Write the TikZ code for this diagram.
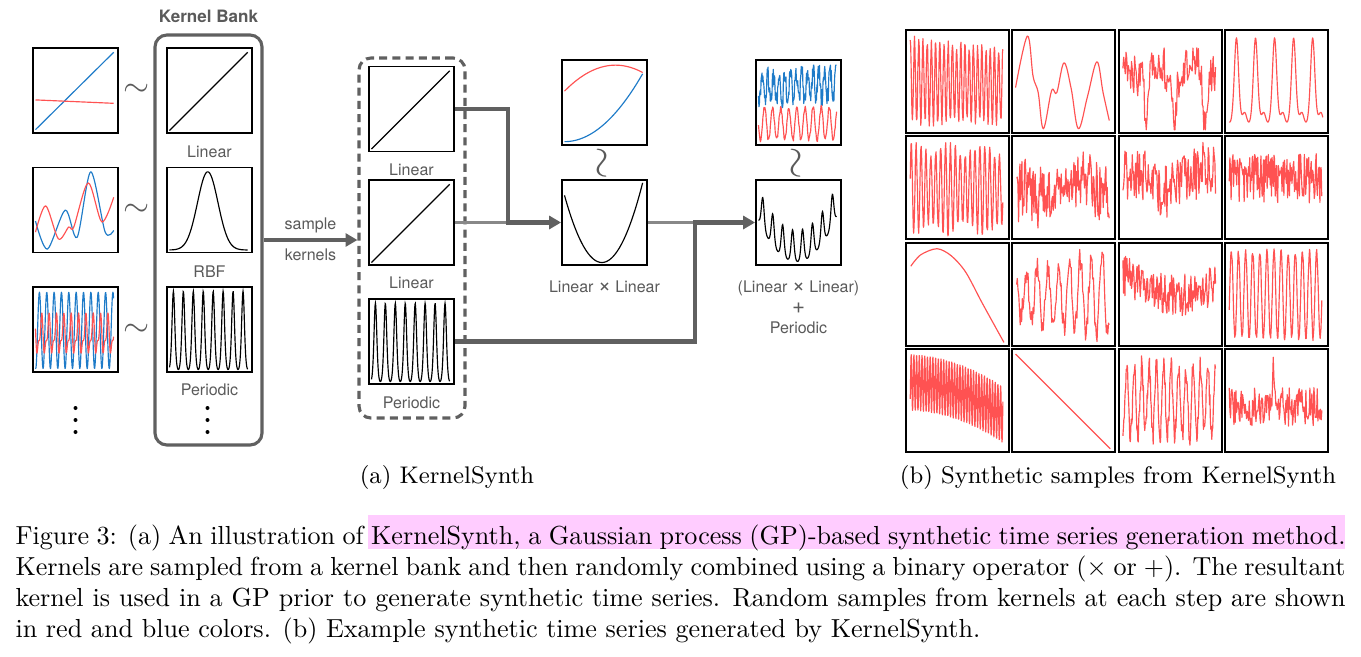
\documentclass[tikz,border=0pt]{standalone}
\usepackage{fontspec}
\newfontfamily\helv{TeX Gyre Heros}
\usetikzlibrary{arrows.meta}
\newlength\pxu
\setlength\pxu{0.387pt}
\definecolor{framegray}{HTML}{606060}
\definecolor{labelgray}{HTML}{5A5A5A}
\definecolor{sred}{HTML}{FF5252}
\definecolor{sblue}{HTML}{1E7BC8}
\definecolor{hlpink}{HTML}{FFCCFF}
\newcommand\optimes{{\fontsize{8.6}{8}\selectfont ×}}

\begin{document}
\begin{tikzpicture}[x=0.387pt,y=-0.387pt,
    plotframe/.style={draw,line width=0.7pt,inner sep=0pt,minimum size=85\pxu},
    gridframe/.style={plotframe,minimum size=103\pxu},
    lbl/.style={font=\helv\fontsize{6.2}{7.5}\selectfont,text=labelgray,inner sep=0pt},
    kline/.style={line width=0.45pt,black},
    rline/.style={line width=0.45pt,sred,line join=round},
    bline/.style={line width=0.45pt,sblue,line join=round},
    flow/.style={framegray,line width=1.9pt},
    thinflow/.style={framegray!75,line width=0.9pt},
    flowtip/.style={-{Triangle[length=4.6pt,width=5pt]}},
    tildemark/.style={text=labelgray,inner sep=0pt,scale=1.3},
    in box/.style={shift={(#1.south west)},x=85\pxu,y=85\pxu},
    in cell/.style={shift={(#1.south west)},x=103\pxu,y=103\pxu}]
  \useasboundingbox (0,0) rectangle (1361,656);

  % kernel bank and sampled kernels
  \node[lbl,font=\helv\bfseries\fontsize{6.6}{8}\selectfont,anchor=base] (banktitle) at (208.5,22) {Kernel Bank};
  \node[draw=framegray,line width=1.2pt,rounded corners=4.6pt,minimum width=107\pxu,minimum height=410\pxu] (bank) at (208.5,240) {};
  \node[draw=framegray,line width=1.2pt,dash pattern=on 3.1pt off 2pt,rounded corners=4.6pt,minimum width=106\pxu,minimum height=360\pxu] (pick) at (412,238) {};

  \node[plotframe] (s1) at (75.5,90.5) {};
  \node[plotframe] (s2) at (75.5,210) {};
  \node[plotframe] (s3) at (75.5,329.5) {};
  \node[plotframe] (k1) at (209.5,90.5) {};
  \node[plotframe] (k2) at (209.5,210) {};
  \node[plotframe] (k3) at (209.5,329.5) {};
  \node[plotframe] (p1) at (411.5,109) {};
  \node[plotframe] (p2) at (411.5,222.5) {};
  \node[plotframe] (p3) at (411.5,341.5) {};
  \node[plotframe] (llsmp) at (604.5,102.5) {};
  \node[plotframe] (ll) at (604.5,222.5) {};
  \node[plotframe] (sumsmp) at (798.5,102.5) {};
  \node[plotframe] (sum) at (798.5,222.5) {};

  \foreach \y in {90,210,330}{
    \node[tildemark] at (137,\y) {$\sim$};
  }
  \node[tildemark,rotate=90,scale=1.25] (wr1) at (604.5,163) {$\sim$};
  \node[tildemark,rotate=90,scale=1.25] (wr2) at (798.5,163) {$\sim$};
  \foreach \d in {408,420,432}{
    \fill (75.5,\d) circle (2);
    \fill (207.5,\d) circle (2);
  }

  \node[lbl,anchor=base] (k1l) at (209.5,157) {Linear};
  \node[lbl,anchor=base] (k2l) at (209.5,277) {RBF};
  \node[lbl,anchor=base] (k3l) at (209.5,395) {Periodic};
  \node[lbl,anchor=base] (p1l) at (411.5,175) {Linear};
  \node[lbl,anchor=base] (p2l) at (411.5,288) {Linear};
  \node[lbl,anchor=base] (p3l) at (411.5,408) {Periodic};
  \node[lbl,anchor=base] (lll) at (604.5,292) {Linear \optimes{} Linear};
  \node[lbl,anchor=base] (suml1) at (798.5,292) {(Linear \optimes{} Linear)};
  \node[lbl,anchor=base] (suml2) at (798.5,313) {\fontsize{8.6}{8}\selectfont +};
  \node[lbl,anchor=base] (suml3) at (798.5,333) {Periodic};

  % connectors
  \draw[framegray,line width=1.2pt,flowtip] (bank.east) -- (bank.east -| pick.west)
    node[lbl,midway,above=2pt] {sample} node[lbl,midway,below=3pt] {kernels};
  \coordinate (j1) at (508,222.5);
  \coordinate (j2) at (695,222.5);
  \draw[thinflow] (p2.east) -- (j1);
  \draw[flow,flowtip] (p1.east) -| (j1) -- (ll.west);
  \draw[thinflow] (ll.east) -- (j2);
  \draw[flow,flowtip] (p3.east) -| (j2) -- (sum.west);

  % samples drawn from the bank
  \begin{scope}[in box=s1]
    \draw[bline] (0.04,0.05) -- (0.96,0.96);
    \draw[rline] (0.04,0.40) -- (0.96,0.36);
  \end{scope}
  \begin{scope}[in box=s2]
    \draw[bline] plot[smooth] coordinates {(0.04,0.38) (0.18,0.05) (0.39,0.51) (0.53,0.19) (0.69,0.96) (0.86,0.25) (0.96,0.27)};
    \draw[rline] plot[smooth] coordinates {(0.04,0.25) (0.16,0.56) (0.31,0.17) (0.43,0.31) (0.49,0.31) (0.66,0.83) (0.82,0.37) (0.96,0.66)};
  \end{scope}
  \begin{scope}[in box=s3]
    \draw[bline] plot[domain=0.04:0.96,samples=220] (\x,{0.5+0.45*cos(360*(\x-0.086)/0.0865)});
    \draw[rline] plot[domain=0.04:0.96,samples=220] (\x,{0.44+0.19*cos(360*(\x-0.11)/0.0865)+0.09*cos(720*(\x-0.03)/0.0865)});
  \end{scope}

  % kernels
  \foreach \b in {k1,p1,p2}{
    \begin{scope}[in box=\b]
      \draw[kline] (0.04,0.04) -- (0.96,0.96);
    \end{scope}
  }
  \begin{scope}[in box=k2]
    \draw[kline] plot[domain=0.04:0.96,samples=100] (\x,{0.04+0.92*exp(-(\x-0.49)*(\x-0.49)/0.029)});
  \end{scope}
  \foreach \b in {k3,p3}{
    \begin{scope}[in box=\b]
      \draw[kline] plot[domain=0.04:0.96,samples=240] (\x,{1.0023*exp(-1.25*(1-cos(360*(\x-0.086)/0.117)))-0.0423});
    \end{scope}
  }
  \begin{scope}[in box=ll]
    \draw[kline] plot[domain=0.04:0.96,samples=60] (\x,{0.04+4.08*(\x-0.48)*(\x-0.48)});
  \end{scope}
  \begin{scope}[in box=llsmp]
    \draw[rline] plot[domain=0.04:0.96,samples=60] (\x,{0.95-0.85*(\x-0.64)*(\x-0.64)});
    \draw[bline] plot[domain=0.04:0.96,samples=60] (\x,{0.05+0.945*(\x-0.04)*(\x-0.04)});
  \end{scope}
  \begin{scope}[in box=sum]
    \draw[kline] plot[domain=0.04:0.96,samples=240] (\x,{0.02+2.4*(\x-0.49)*(\x-0.49)+0.4*exp(-1.25*(1-cos(360*(\x-0.09)/0.117)))});
  \end{scope}
  \begin{scope}[in box=sumsmp]
    \pgfmathsetseed{7}
    \draw[bline] plot[domain=0.04:0.96,samples=180] (\x,{max(0.45,min(0.95,0.66+0.08*\x+0.17*sin(360*15*\x)+0.11*rand))});
    \draw[rline] plot[domain=0.04:0.96,samples=160] (\x,{0.26+0.19*sin(360*10.5*\x+30)+0.03*rand});
  \end{scope}

  % synthetic samples
  \foreach \r in {1,...,4}{
    \foreach \c in {1,...,4}{
      \node[gridframe] (g\r\c) at ({957.5+(\c-1)*106.33},{81.5+(\r-1)*106.33}) {};
    }
  }
  \begin{scope}[in cell=g11]
    \pgfmathsetseed{11}
    \draw[rline] plot[domain=0.05:0.95,samples=220] (\x,{0.52-0.05*\x+(0.40-0.06*\x)*sin(360*24.5*\x)+0.05*rand});
  \end{scope}
  \begin{scope}[in cell=g12]
    \draw[rline] plot[smooth,tension=0.6] coordinates {(0.04,0.45) (0.155,0.95) (0.21,0.56) (0.26,0.4) (0.31,0.05) (0.39,0.42) (0.44,0.4) (0.51,0.69) (0.58,0.44) (0.65,0.05) (0.74,0.37) (0.83,0.7) (0.89,0.4) (0.95,0.13)};
  \end{scope}
  \begin{scope}[in cell=g13]
    \pgfmathsetseed{13}
    \draw[rline] plot[domain=0.05:0.95,samples=120] (\x,{max(0.04,min(0.96,0.62+0.1*sin(360*3*\x+40)+0.2*rand-0.5*(exp(-(\x-0.28)*(\x-0.28)/0.0006)+exp(-(\x-0.55)*(\x-0.55)/0.0006)+exp(-(\x-0.85)*(\x-0.85)/0.0006))))});
  \end{scope}
  \begin{scope}[in cell=g14]
    \draw[rline] plot[domain=0.05:0.96,samples=220] (\x,{0.05+0.88*exp(-2*(1-cos(360*(\x-0.12)/0.185)))+0.14*exp(-2*(1-cos(360*(\x-0.2)/0.185)))});
  \end{scope}
  \begin{scope}[in cell=g21]
    \pgfmathsetseed{21}
    \draw[rline] plot[domain=0.05:0.95,samples=220] (\x,{0.5+(0.38+0.05*sin(360*3*\x))*sin(360*21*\x)+0.04*rand});
  \end{scope}
  \begin{scope}[in cell=g22]
    \pgfmathsetseed{22}
    \draw[rline] plot[domain=0.05:0.95,samples=140] (\x,{max(0.04,min(0.96,0.5-0.08*sin(360*1.2*\x)+(0.18+0.2*abs(cos(180*\x)))*rand))});
  \end{scope}
  \begin{scope}[in cell=g23]
    \pgfmathsetseed{23}
    \draw[rline] plot[domain=0.05:0.95,samples=140] (\x,{max(0.04,min(0.96,0.58+0.1*sin(360*1.5*\x)+0.27*rand))});
  \end{scope}
  \begin{scope}[in cell=g24]
    \pgfmathsetseed{24}
    \draw[rline] plot[domain=0.05:0.95,samples=150] (\x,{max(0.04,min(0.96,0.6+0.24*rand))});
  \end{scope}
  \begin{scope}[in cell=g31]
    \draw[rline] plot[smooth] coordinates {(0.055,0.78) (0.15,0.89) (0.31,0.95) (0.45,0.88) (0.59,0.72) (0.75,0.42) (0.96,0.04)};
  \end{scope}
  \begin{scope}[in cell=g32]
    \pgfmathsetseed{32}
    \draw[rline] plot[domain=0.05:0.95,samples=130] (\x,{max(0.04,min(0.96,0.5+(0.2+0.22*\x)*sin(360*9.5*\x-40)+0.12*rand))});
  \end{scope}
  \begin{scope}[in cell=g33]
    \pgfmathsetseed{33}
    \draw[rline] plot[domain=0.05:0.95,samples=140] (\x,{max(0.04,min(0.96,0.75-0.9*\x+0.8*\x*\x+0.2*rand))});
  \end{scope}
  \begin{scope}[in cell=g34]
    \pgfmathsetseed{34}
    \draw[rline] plot[domain=0.05:0.95,samples=220] (\x,{0.5+0.42*sin(360*14.5*\x+80)+0.03*rand});
  \end{scope}
  \begin{scope}[in cell=g41]
    \draw[rline] plot[domain=0.05:0.95,samples=400] (\x,{0.685-0.35*\x*\x+0.27*sin(360*38*\x)});
  \end{scope}
  \begin{scope}[in cell=g42]
    \draw[rline] (0.04,0.96) -- (0.96,0.04);
  \end{scope}
  \begin{scope}[in cell=g43]
    \pgfmathsetseed{43}
    \draw[rline] plot[domain=0.05:0.95,samples=200] (\x,{max(0.04,min(0.96,0.5+0.33*sin(360*14*\x)+0.12*rand))});
  \end{scope}
  \begin{scope}[in cell=g44]
    \pgfmathsetseed{44}
    \draw[rline] plot[domain=0.05:0.95,samples=140] (\x,{max(0.04,min(0.96,0.45+0.19*rand+0.4*exp(-(\x-0.48)*(\x-0.48)/0.0003)))});
  \end{scope}

  % captions
  \node[anchor=base,font=\fontsize{9.3}{11}\selectfont] (capa) at (447,483) {(a) KernelSynth};
  \node[anchor=base,font=\fontsize{9.3}{11}\selectfont] (capb) at (1118,483) {(b) Synthetic samples from KernelSynth};
  \fill[hlpink] (368,515) rectangle (1345,549);
  \node[anchor=north west,inner sep=0pt,text width=514.7pt,align=justify,font=\fontsize{10.1}{12}\selectfont] (cap) at (15,524)
    {Figure 3: (a) An illustration of KernelSynth, a Gaussian process (GP)-based synthetic time series generation method.\linebreak
     Kernels are sampled from a kernel bank and then randomly combined using a binary operator ($\times$ or $+$). The resultant\linebreak
     kernel is used in a GP prior to generate synthetic time series. Random samples from kernels at each step are shown\linebreak
     in red and blue colors. (b) Example synthetic time series generated by KernelSynth.};
\end{tikzpicture}
\end{document}
